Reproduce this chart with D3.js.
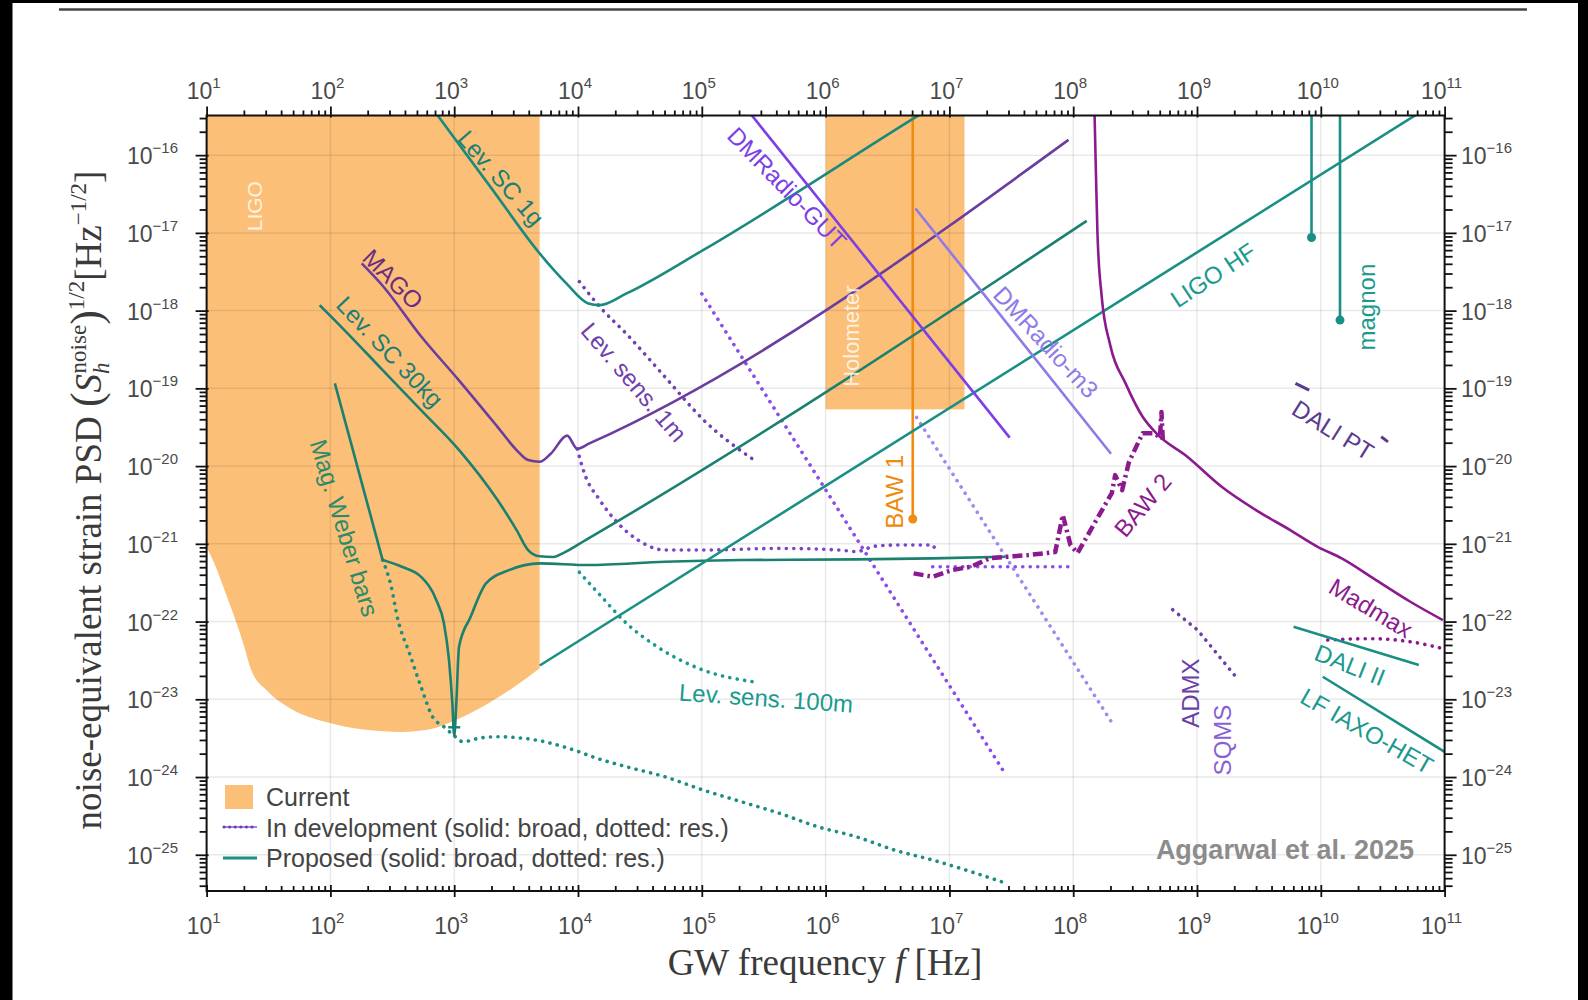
<!DOCTYPE html>
<html><head><meta charset="utf-8">
<script src="https://cdn.jsdelivr.net/npm/d3@7"></script>
<style>body{margin:0;background:#fff;overflow:hidden}</style>
</head><body>
<svg id="c" width="1588" height="1000"></svg>
<script>
// ---- data: pairs are [log10 f (Hz), log10 h (Hz^-1/2)] ----
const xTickExps = [1,2,3,4,5,6,7,8,9,10,11];
const yTickExps = [-16,-17,-18,-19,-20,-21,-22,-23,-24,-25];

const ligoLog = [[1,-21.04],[1.062,-21.25],[1.155,-21.64],[1.233,-21.98],[1.30,-22.30],[1.36,-22.62],[1.495,-22.90],[1.681,-23.12],[1.959,-23.29],[2.268,-23.39],[2.577,-23.42],[2.793,-23.39],[3.01,-23.27],[3.257,-23.07],[3.504,-22.82],[3.69,-22.60]];
const holometerBox = {f0:6.0, f1:7.122, hLow:-19.27};
const baw1 = {f:6.704, hEnd:-20.68};

const lev1gLog = [[2.825,-15.40],[3.3,-16.424],[3.690,-17.264],[3.906,-17.650],[4.083,-17.907],[4.176,-17.929],[4.392,-17.779],[5.010,-17.222],[6.711,-15.528],[6.80,-15.44]];
const magoLog = [[2.253,-17.393],[2.422,-17.68],[2.732,-18.33],[3.040,-18.90],[3.350,-19.495],[3.504,-19.794],[3.597,-19.923],[3.690,-19.945],[3.782,-19.837],[3.912,-19.608],[3.994,-19.777],[4.092,-19.708],[7.962,-15.804]];
const lev30Log = [[1.913,-17.929],[2.113,-18.25],[2.422,-18.765],[2.732,-19.280],[3.040,-19.794],[3.350,-20.437],[3.504,-20.823],[3.597,-21.080],[3.690,-21.16],[3.80,-21.17],[3.876,-21.123],[4.061,-20.952],[8.109,-16.846]];
const weberStraightLog = [[2.036,-18.936],[2.422,-21.209]];
const weberLog = [[2.422,-21.209],[2.577,-21.295],[2.732,-21.424],[2.855,-21.723],[2.917,-22.023],[2.958,-22.495],[2.985,-23.05],[3.000,-23.47],[3.017,-23.05],[3.039,-22.324],[3.133,-21.938],[3.257,-21.509],[3.443,-21.338],[3.690,-21.251],[4.083,-21.273],[4.701,-21.231],[5.320,-21.209],[6.247,-21.200],[6.865,-21.187],[7.452,-21.166]];
const weberDotLog = [[2.422,-21.209],[2.485,-21.509],[2.546,-21.981],[2.639,-22.409],[2.732,-22.839],[2.825,-23.224],[2.917,-23.353],[2.994,-23.46],[3.071,-23.546],[3.208,-23.498],[3.350,-23.482],[3.659,-23.524],[3.968,-23.653],[4.153,-23.759],[4.392,-23.868],[4.701,-23.996],[5.010,-24.167],[5.320,-24.318],[5.628,-24.467],[5.938,-24.640],[6.247,-24.768],[6.556,-24.939],[6.865,-25.068],[7.175,-25.218],[7.422,-25.347]];
const weberMarker = [3.0,-23.36];
const ligoHFLog = [[3.691,-22.565],[10.85,-15.40]];
const lev100mLog = [[4.011,-21.366],[4.178,-21.659],[4.392,-22.023],[4.640,-22.324],[5.010,-22.624],[5.412,-22.774]];
const lev1mLog = [[4.011,-17.627],[4.176,-17.951],[4.392,-18.30],[4.701,-18.85],[5.010,-19.40],[5.443,-19.945]];
const lev1mLowLog = [[3.994,-19.78],[4.052,-20.094],[4.176,-20.437],[4.300,-20.695],[4.485,-20.952],[4.701,-21.080],[5.010,-21.08],[5.628,-21.059],[6.116,-21.08],[6.247,-21.10],[6.40,-21.03],[6.556,-21.016],[6.865,-21.016],[6.892,-21.119]];
const dmGutDotLog = [[5.0,-17.784],[7.430,-23.906]];
const dmM3DotLog = [[6.735,-19.374],[8.305,-23.281]];
const baw2DotLog = [[6.865,-21.295],[7.994,-21.295]];
const dmGutLog = [[5.40,-15.48],[7.487,-19.633]];
const dmM3Log = [[6.726,-16.686],[8.305,-19.842]];
const baw2Log = [[6.711,-21.380],[6.865,-21.424],[7.019,-21.338],[7.175,-21.295],[7.328,-21.183],[7.638,-21.145],[7.855,-21.106],[7.916,-20.630],[7.978,-21.016],[8.035,-21.119],[8.173,-20.733],[8.312,-20.347],[8.339,-20.116],[8.395,-20.309],[8.450,-19.949],[8.561,-19.576],[8.645,-19.576],[8.701,-19.627],[8.713,-19.305],[8.725,-19.704]];
const madmaxLog = [[8.170,-15.30],[8.183,-16.19],[8.196,-17.007],[8.229,-17.80],[8.300,-18.45],[8.423,-18.936],[8.561,-19.366],[8.672,-19.579],[8.922,-19.880],[9.199,-20.266],[9.476,-20.566],[9.753,-20.823],[9.975,-21.038],[10.169,-21.187],[10.446,-21.466],[10.723,-21.745],[10.986,-21.981]];
const madmaxDotLog = [[10.056,-22.238],[10.40,-22.22],[10.743,-22.264],[11.0,-22.354]];
const daliIILog = [[9.780,-22.067],[10.792,-22.559]];
const lfIaxoLog = [[10.016,-22.710],[11.0,-23.675]];
const admxLog = [[8.804,-21.848],[9.005,-22.109],[9.312,-22.707]];
const daliPTSegs = [[[9.795,-18.936],[9.906,-19.023]],[[10.488,-19.623],[10.543,-19.688]]];
const magnonLog = [[9.925,-17.059],[10.155,-18.122]];

const labels = [
 {t:"LIGO", f:1.387, h:-16.656, a:-90, c:"rgba(255,255,255,0.8)", s:21},
 {t:"Lev. SC 1g", f:3.378, h:-16.296, a:49, c:"#1a7f74", s:24},
 {t:"MAGO", f:2.506, h:-17.595, a:45, c:"#6a2d80", s:24},
 {t:"Lev. SC 30kg", f:2.48, h:-18.53, a:46.5, c:"#1a7f74", s:24},
 {t:"Mag. Weber bars", f:2.113, h:-20.797, a:73, c:"#2a8a6a", s:24},
 {t:"Lev. sens. 1m", f:4.452, h:-18.920, a:49.5, c:"#6f3fae", s:24},
 {t:"DMRadio-GUT", f:5.688, h:-16.424, a:46, c:"#7d3ee6", s:24},
 {t:"Holometer", f:6.213, h:-18.328, a:-90, c:"rgba(255,255,255,0.8)", s:22},
 {t:"BAW 1", f:6.560, h:-20.331, a:-90, c:"#f08a0c", s:24},
 {t:"DMRadio-m3", f:7.780, h:-18.405, a:47.4, c:"#8f7ae8", s:24},
 {t:"BAW 2", f:8.561, h:-20.502, a:-50, c:"#8c1a8f", s:24},
 {t:"LIGO HF", f:9.130, h:-17.543, a:-33.4, c:"#1a9a8f", s:24},
 {t:"magnon", f:10.366, h:-17.955, a:-90, c:"#1a9a8f", s:24},
 {t:"DALI PT", f:10.098, h:-19.537, a:32, c:"#5b3b8e", s:24},
 {t:"Madmax", f:10.405, h:-21.826, a:31, c:"#8c1a8f", s:24},
 {t:"DALI II", f:10.236, h:-22.559, a:21.7, c:"#1a9a8f", s:24},
 {t:"LF IAXO-HET", f:10.373, h:-23.408, a:29.7, c:"#1a9a8f", s:24},
 {t:"ADMX", f:8.951, h:-22.920, a:-90, c:"#6b3fa6", s:24},
 {t:"SQMS", f:9.202, h:-23.524, a:-90, c:"#8a5fd6", s:24},
 {t:"Lev. sens. 100m", f:5.519, h:-22.984, a:4, c:"#1a9a8f", s:24}
];
const legendItems = ["Current","In development (solid: broad, dotted: res.)","Proposed (solid: broad, dotted: res.)"];

// ---- drawing ----
const svg = d3.select("#c");
const SANS = "'Liberation Sans', Arial, Helvetica, sans-serif";
const SERIF = "'Liberation Serif', 'Times New Roman', serif";
const L=206.6, R=1444.6, T=115.5, B=891;
const x = d3.scaleLog().domain([1e1,1e11]).range([L,R]);
const y = d3.scaleLog().domain([Math.pow(10,-25.466), Math.pow(10,-15.49)]).range([B,T]);
const X = e => x(Math.pow(10,e)), Y = e => y(Math.pow(10,e));

const ORANGE="#fbbf78", TEAL="#1a8f86";

// page decorations
svg.append("rect").attr("x",0).attr("y",0).attr("width",1588).attr("height",1000).attr("fill","#fff");
svg.append("rect").attr("x",0).attr("y",0).attr("width",12.5).attr("height",1000).attr("fill","#000");
svg.append("rect").attr("x",1578).attr("y",0).attr("width",10).attr("height",1000).attr("fill","#000");
svg.append("rect").attr("x",0).attr("y",0).attr("width",1588).attr("height",3).attr("fill","#000");
svg.append("line").attr("x1",59).attr("x2",1527).attr("y1",9.5).attr("y2",9.5).attr("stroke","#444").attr("stroke-width",2.4);

svg.append("clipPath").attr("id","clip").append("rect").attr("x",L).attr("y",T).attr("width",R-L).attr("height",B-T);
const g = svg.append("g").attr("clip-path","url(#clip)");

// current (filled)
const area = d3.area().x(d=>X(d[0])).y0(T-5).y1(d=>Y(d[1])).curve(d3.curveMonotoneX);
g.append("path").attr("d",area(ligoLog)).attr("fill",ORANGE);
g.append("rect").attr("x",X(holometerBox.f0)).attr("y",T-5).attr("width",X(holometerBox.f1)-X(holometerBox.f0))
 .attr("height",Y(holometerBox.hLow)-T+5).attr("fill",ORANGE);

// grid
const gridG = g.append("g");
xTickExps.forEach(e=>gridG.append("line").attr("x1",X(e)).attr("x2",X(e)).attr("y1",T).attr("y2",B).attr("stroke","rgba(0,0,0,0.085)").attr("stroke-width",1.5));
yTickExps.forEach(e=>gridG.append("line").attr("y1",Y(e)).attr("y2",Y(e)).attr("x1",L).attr("x2",R).attr("stroke","rgba(0,0,0,0.085)").attr("stroke-width",1.5));

const line = d3.line().x(d=>X(d[0])).y(d=>Y(d[1])).curve(d3.curveMonotoneX);
const lin = d3.line().x(d=>X(d[0])).y(d=>Y(d[1]));
function solid(data,color,w,gen){ return g.append("path").attr("d",(gen||line)(data)).attr("fill","none").attr("stroke",color).attr("stroke-width",w||2.6).attr("stroke-linejoin","round"); }
function dotted(data,color,gen){ return g.append("path").attr("d",(gen||line)(data)).attr("fill","none").attr("stroke",color).attr("stroke-width",3.6).attr("stroke-linecap","round").attr("stroke-dasharray","0.1,7.4"); }

// BAW 1
g.append("line").attr("x1",X(baw1.f)).attr("x2",X(baw1.f)).attr("y1",T-5).attr("y2",Y(baw1.hEnd)).attr("stroke","#f28c0f").attr("stroke-width",2.6);
g.append("circle").attr("cx",X(baw1.f)).attr("cy",Y(baw1.hEnd)).attr("r",4.5).attr("fill","#f28c0f");

// dotted (resonant)
dotted(weberDotLog,"#1a8f80");
dotted(lev100mLog,"#1a9a8f");
dotted(lev1mLog,"#6f3fae");
dotted(lev1mLowLog,"#7a45c8");
dotted(dmGutDotLog,"#8a4ee8",lin);
dotted(dmM3DotLog,"#a08af0",lin);
dotted(baw2DotLog,"#8a4ee8",lin);
dotted(madmaxDotLog,"#8c1a8f");
dotted(admxLog,"#6b3fa6",lin);

// solid (broadband)
solid(lev1gLog,"#1a8a7e");
solid(lev30Log,"#1a8070");
solid(weberStraightLog,"#1a806f",2.6,lin);
solid(weberLog,"#1a806f");
g.append("line").attr("x1",X(weberMarker[0])-6).attr("x2",X(weberMarker[0])+6).attr("y1",Y(weberMarker[1])).attr("y2",Y(weberMarker[1])).attr("stroke","#1a806f").attr("stroke-width",2.4);
solid(ligoHFLog,TEAL,2.6,lin);
solid(magoLog,"#6a3d9e");
solid(dmGutLog,"#7d3ee6",2.6,lin);
solid(dmM3Log,"#8f7ae8",2.6,lin);
solid(madmaxLog,"#8c1a8f");
solid(daliIILog,TEAL,2.6,lin);
solid(lfIaxoLog,TEAL,2.6,lin);
daliPTSegs.forEach(s=>solid(s,"#5b3b8e",3,lin));
g.append("path").attr("d",lin(baw2Log)).attr("fill","none").attr("stroke","#8c1a8f").attr("stroke-width",4.5)
 .attr("stroke-dasharray","10,4,2.5,4").attr("stroke-linejoin","round");

// magnon
magnonLog.forEach(d=>{
  g.append("line").attr("x1",X(d[0])).attr("x2",X(d[0])).attr("y1",T-5).attr("y2",Y(d[1])).attr("stroke",TEAL).attr("stroke-width",2.6);
  g.append("circle").attr("cx",X(d[0])).attr("cy",Y(d[1])).attr("r",4.5).attr("fill",TEAL);
});

// labels
labels.forEach(l=>{
  svg.append("text").attr("transform",`translate(${X(l.f)},${Y(l.h)}) rotate(${l.a})`)
   .attr("text-anchor","middle").attr("dominant-baseline","central")
   .attr("font-family",SANS).attr("font-size",l.s).attr("fill",l.c).text(l.t);
});

// frame + axes
const axG = svg.append("g");
const minor = [];
xTickExps.slice(0,-1).forEach(e=>[2,3,4,5,6,7,8,9].forEach(k=>minor.push(k*Math.pow(10,e))));
const yMinor = [];
[-26,-25,-24,-23,-22,-21,-20,-19,-18,-17,-16].forEach(e=>[2,3,4,5,6,7,8,9].forEach(k=>{const v=k*Math.pow(10,e); if(v>=y.domain()[0]&&v<=y.domain()[1]) yMinor.push(v);}));
const majX = xTickExps.map(e=>Math.pow(10,e));
const majY = yTickExps.map(e=>Math.pow(10,e));
function styleAxis(sel){ sel.select(".domain").remove(); sel.selectAll("line").attr("stroke","#111").attr("stroke-width",1.8); }
// bottom: minor inside, major in-out
axG.append("g").attr("transform",`translate(0,${B})`).call(d3.axisBottom(x).tickValues(minor).tickSize(-5).tickFormat("")).call(styleAxis);
axG.append("g").attr("transform",`translate(0,${B-6})`).call(d3.axisBottom(x).tickValues(majX).tickSize(12).tickFormat("")).call(styleAxis);
axG.append("g").attr("transform",`translate(0,${T})`).call(d3.axisTop(x).tickValues(minor).tickSize(5).tickFormat("")).call(styleAxis);
axG.append("g").attr("transform",`translate(0,${T+2})`).call(d3.axisTop(x).tickValues(majX).tickSize(11).tickFormat("")).call(styleAxis);
axG.append("g").attr("transform",`translate(${L},0)`).call(d3.axisLeft(y).tickValues(yMinor).tickSize(7).tickFormat("")).call(styleAxis);
axG.append("g").attr("transform",`translate(${L+2},0)`).call(d3.axisLeft(y).tickValues(majY).tickSize(13).tickFormat("")).call(styleAxis);
axG.append("g").attr("transform",`translate(${R},0)`).call(d3.axisRight(y).tickValues(yMinor).tickSize(8).tickFormat("")).call(styleAxis);
axG.append("g").attr("transform",`translate(${R},0)`).call(d3.axisRight(y).tickValues(majY).tickSize(12).tickFormat("")).call(styleAxis);
svg.append("rect").attr("x",L).attr("y",T).attr("width",R-L).attr("height",B-T).attr("fill","none").attr("stroke","#111").attr("stroke-width",2);

const TICKC="#4a4a4a";
function pow10(sel,exp){ sel.append("tspan").text("10"); sel.append("tspan").attr("font-size",15).attr("dy",-11).text(String(exp).replace("-","\u2212")); }
xTickExps.forEach(e=>{
  pow10(svg.append("text").attr("x",X(e)-3).attr("y",99).attr("text-anchor","middle").attr("font-family",SANS).attr("font-size",23).attr("fill",TICKC),e);
  pow10(svg.append("text").attr("x",X(e)-3).attr("y",934).attr("text-anchor","middle").attr("font-family",SANS).attr("font-size",23).attr("fill",TICKC),e);
});
yTickExps.forEach(e=>{
  pow10(svg.append("text").attr("x",178).attr("y",Y(e)+9).attr("text-anchor","end").attr("font-family",SANS).attr("font-size",23).attr("fill",TICKC),e);
  pow10(svg.append("text").attr("x",1461).attr("y",Y(e)+9).attr("text-anchor","start").attr("font-family",SANS).attr("font-size",23).attr("fill",TICKC),e);
});

// axis titles
const xt = svg.append("text").attr("x",825).attr("y",975).attr("text-anchor","middle").attr("font-family",SERIF).attr("font-size",37).attr("fill","#3a3a3a");
xt.append("tspan").text("GW frequency ");
xt.append("tspan").attr("font-style","italic").text("f");
xt.append("tspan").text(" [Hz]");

const yt = svg.append("text").attr("transform","translate(101,500) rotate(-90)").attr("text-anchor","middle").attr("font-family",SERIF).attr("font-size",37).attr("fill","#3a3a3a");
yt.append("tspan").text("noise-equivalent strain PSD ");
yt.append("tspan").attr("font-size",44).text("(");
yt.append("tspan").attr("font-style","italic").text("S");
yt.append("tspan").attr("font-style","italic").attr("font-size",23).attr("dy",8).text("h");
yt.append("tspan").attr("font-size",23).attr("dx",-11).attr("dy",-23).text("noise");
yt.append("tspan").attr("font-size",44).attr("dy",15).text(")");
yt.append("tspan").attr("font-size",23).attr("dy",-17).text("1/2");
yt.append("tspan").attr("dy",17).text("[Hz");
yt.append("tspan").attr("font-size",23).attr("dy",-15).text("\u22121/2");
yt.append("tspan").attr("dy",15).text("]");

// legend
svg.append("rect").attr("x",225).attr("y",785).attr("width",28).attr("height",24).attr("fill",ORANGE);
svg.append("line").attr("x1",223).attr("x2",257).attr("y1",827).attr("y2",827).attr("stroke","#a87ee8").attr("stroke-width",2);
svg.append("line").attr("x1",224).attr("x2",257).attr("y1",827).attr("y2",827).attr("stroke","#6b3fa6").attr("stroke-width",3).attr("stroke-linecap","round").attr("stroke-dasharray","0.1,5.5");
svg.append("line").attr("x1",223).attr("x2",257).attr("y1",858).attr("y2",858).attr("stroke",TEAL).attr("stroke-width",3);
legendItems.forEach((t,i)=>svg.append("text").attr("x",266).attr("y",[806,837,867][i]).attr("font-family",SANS).attr("font-size",25).attr("fill","#444").text(t));

svg.append("text").attr("x",1414).attr("y",859).attr("text-anchor","end").attr("font-family",SANS).attr("font-weight","bold").attr("font-size",27).attr("fill","#8c8c8c").text("Aggarwal et al. 2025");
</script>
</body></html>
